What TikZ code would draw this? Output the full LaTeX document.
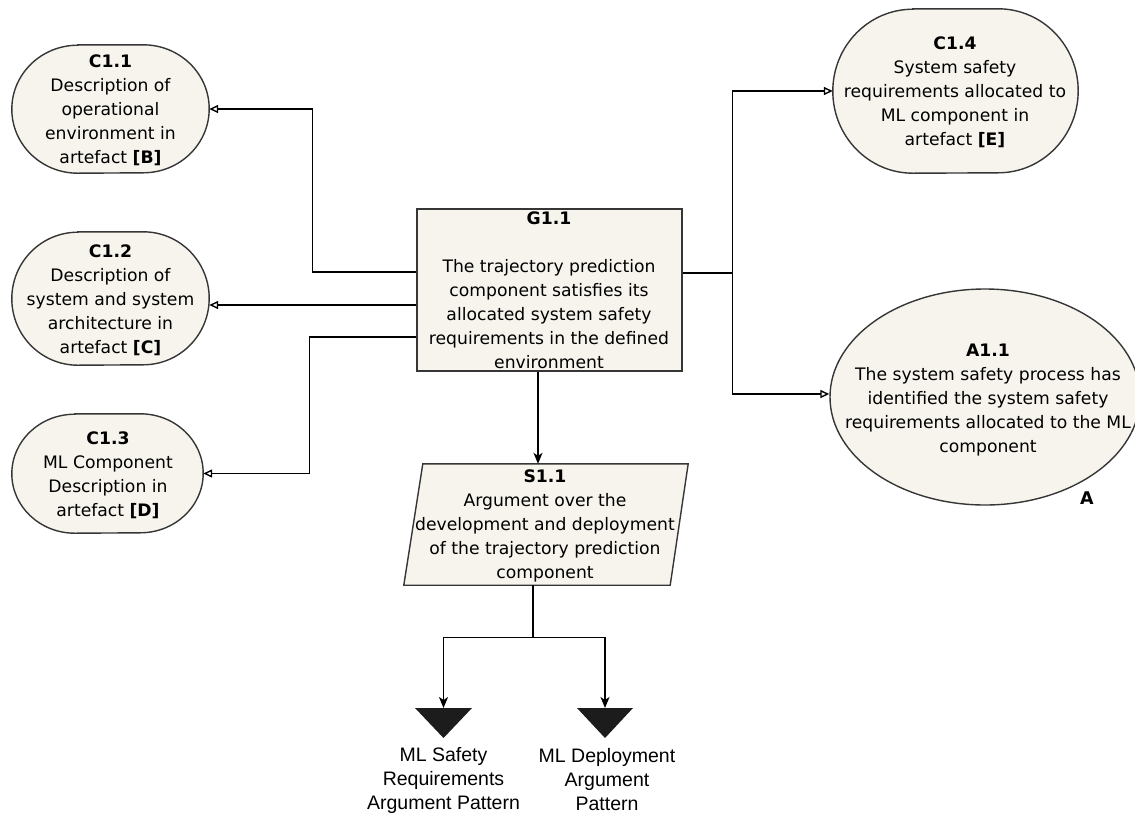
\documentclass[tikz,border=0pt]{standalone}
\usepackage{fontspec}
\setmainfont{DejaVu Sans}
\newfontfamily\arialfont{Liberation Sans}
\usetikzlibrary{arrows.meta,shapes.geometric}
\definecolor{gsnfill}{RGB}{246,244,236}
\definecolor{gsnline}{RGB}{54,54,54}
\definecolor{modfill}{RGB}{28,28,28}

% Context outline: flat top and bottom, half-ellipse ends.
% #1 frame node, #2 horizontal radius of the ends, #3 half the height
\newcommand{\ctxoutline}[3]{%
  \draw[gsnshape] ([xshift=#2]#1.north west) -- ([xshift=-#2]#1.north east)
    arc[start angle=90, end angle=-90, x radius=#2, y radius=#3]
    -- ([xshift=#2]#1.south west)
    arc[start angle=270, end angle=90, x radius=#2, y radius=#3] -- cycle;}

\begin{document}
\begin{tikzpicture}[x=1pt,y=-1pt,
  gsnshape/.style={draw=gsnline, fill=gsnfill, line width=1.4pt, inner sep=0pt},
  frame/.style={inner sep=0pt, rectangle},
  gsntext/.style={align=center, inner sep=0pt, font=\fontsize{17.2}{24}\selectfont},
  modtext/.style={align=center, inner sep=0pt, font=\arialfont\fontsize{19.5}{24}\selectfont},
  conn/.style={draw=black, line width=1.4pt},
  ctxlink/.style={conn, -{Triangle[open,length=9pt,width=8pt]}},
  suplink/.style={conn, -{Stealth[length=11pt,width=9pt,inset=3pt]}},
]
\clip (0,0) rectangle (1135,815);

% context frames and outlines
\node[frame, minimum width=197pt, minimum height=128pt] (c11) at (110.5,109) {};
\node[frame, minimum width=197pt, minimum height=133pt] (c12) at (110.5,298.5) {};
\node[frame, minimum width=191pt, minimum height=119pt] (c13) at (107.5,473.5) {};
\node[frame, minimum width=245pt, minimum height=164pt] (c14) at (955.5,91) {};
\ctxoutline{c11}{66pt}{64pt}
\ctxoutline{c12}{66pt}{66.5pt}
\ctxoutline{c13}{63pt}{59.5pt}
\ctxoutline{c14}{80pt}{82pt}

% assumption
\node[gsnshape, ellipse, minimum width=310pt, minimum height=216pt] (a11) at (985,397) {};

% goal
\node[gsnshape, rectangle, minimum width=265pt, minimum height=162pt] (g11) at (549.5,290) {};

% strategy (parallelogram built on a frame node)
\node[frame, minimum width=284pt, minimum height=121pt] (s11) at (546,524.5) {};
\draw[gsnshape] ([xshift=19pt]s11.north west) -- (s11.north east)
  -- ([xshift=-18pt]s11.south east) -- (s11.south west) -- cycle;

% away-module triangles
\coordinate (m1) at (443.5,708);
\coordinate (m2) at (605,708);
\fill[modfill] ([xshift=-28.5pt]m1) -- ([xshift=28.5pt]m1) -- ([yshift=-30pt]m1) -- cycle;
\fill[modfill] ([xshift=-28pt]m2) -- ([xshift=28pt]m2) -- ([yshift=-30pt]m2) -- cycle;

% in-context-of links
\draw[ctxlink] ([yshift=18pt]g11.west) -- ++(-104,0) |- (c11.east);
\draw[ctxlink] ([yshift=-15pt]g11.west) -- ([yshift=-6.5pt]c12.east);
\draw[ctxlink] ([yshift=-47pt]g11.west) -- ++(-107,0) |- (c13.east);
\draw[conn] ([yshift=17pt]g11.east) -- ++(50,0) coordinate (hub);
\draw[ctxlink] (hub) |- (c14.west);
\draw[ctxlink] (hub) |- ([yshift=3pt]a11.west);

% supported-by links
\draw[suplink] ([xshift=-11.5pt]g11.south) -- ([xshift=-8pt]s11.north);
\draw[conn] ([xshift=-13pt]s11.south) -- ++(0,52) coordinate (split);
\draw[suplink] (split) -| (m1);
\draw[suplink] (split) -| (m2);

% texts
\node[gsntext] (c11txt) at (110.5,110) {\textbf{C1.1}\\Description of\\operational\\environment in\\artefact \textbf{[B]}};
\node[gsntext] (c12txt) at (110.5,300) {\textbf{C1.2}\\Description of\\system and system\\architecture in\\artefact \textbf{[C]}};
\node[gsntext] (c13txt) at (108,475) {\textbf{C1.3}\\ML Component\\Description in\\artefact \textbf{[D]}};
\node[gsntext] (c14txt) at (955,92) {\textbf{C1.4}\\System safety\\requirements allocated to\\ML component in\\artefact \textbf{[E]}};
\node[gsntext] (a11txt) at (988,400) {\textbf{A1.1}\\The system safety process has\\identified the system safety\\requirements allocated to the ML\\component};
\node[gsntext, font=\bfseries\fontsize{17.5}{20}\selectfont] (a11tag) at (1087,498) {A};
\node[gsntext] (g11txt) at (549,290) {\textbf{G1.1}\\[24pt]The trajectory prediction\\component satisfies its\\allocated system safety\\requirements in the defined\\environment};
\node[gsntext] (s11txt) at (545,525.5) {\textbf{S1.1}\\Argument over the\\development and deployment\\of the trajectory prediction\\component};
\node[modtext] (m1txt) at (443.5,780) {ML Safety\\Requirements\\Argument Pattern};
\node[modtext] (m2txt) at (607,780) {ML Deployment\\Argument\\Pattern};
\end{tikzpicture}
\end{document}
